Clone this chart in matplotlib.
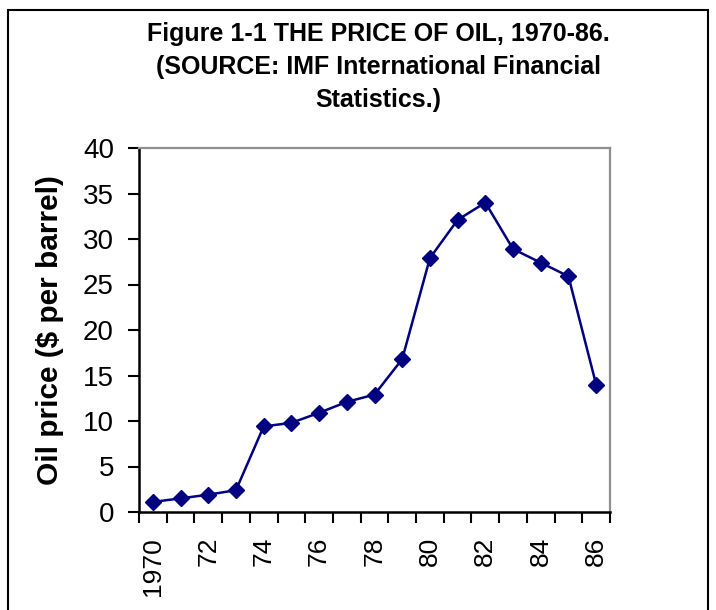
import numpy as np
import matplotlib.pyplot as plt
from matplotlib.patches import Rectangle
from matplotlib.ticker import FixedLocator, NullFormatter

# Oil price data
years = list(range(1970, 1987))
year_labels = ['1970', '72', '74', '76', '78', '80', '82', '84', '86']
prices = [1.1, 1.5, 1.9, 2.4, 9.4, 9.8, 10.9, 12.1, 12.9, 16.8,
          27.9, 32.1, 34.0, 28.9, 27.4, 25.9, 14.0]
y_ticks = [0, 5, 10, 15, 20, 25, 30, 35, 40]

plt.rcParams['font.family'] = ['Liberation Sans', 'DejaVu Sans']

fig = plt.figure(figsize=(7.16, 6.10), dpi=100)
ax = fig.add_axes([139 / 716, 98 / 610, 471 / 716, 364 / 610])

x = np.arange(len(years))
ax.plot(x, prices, color='#000080', lw=1.8, marker='D', markersize=8,
        markerfacecolor='#000080', markeredgecolor='#000080')

ax.set_xlim(-0.5, len(years) - 0.5)
ax.set_ylim(0, 40)
ax.set_yticks(y_ticks)
ax.set_yticklabels([str(v) for v in y_ticks], fontsize=20)

# category axis: tick marks between categories, labels every other year
ax.set_xticks(x[::2])
ax.set_xticklabels(year_labels, rotation=90, fontsize=19)
ax.xaxis.set_minor_locator(FixedLocator(np.arange(-0.5, len(years), 1.0)))
ax.xaxis.set_minor_formatter(NullFormatter())
ax.tick_params(axis='x', which='major', length=0, pad=18)
ax.tick_params(axis='x', which='minor', length=8, width=1.5, direction='out')
ax.tick_params(axis='y', length=8, width=1.5, direction='out', pad=10)

for side in ['left', 'bottom']:
    ax.spines[side].set_color('black')
    ax.spines[side].set_linewidth(1.8)
for side in ['right', 'top']:
    ax.spines[side].set_color('#909090')
    ax.spines[side].set_linewidth(1.6)

ax.set_ylabel('Oil price ($ per barrel)', fontsize=21.5, fontweight='bold')
ax.yaxis.set_label_coords((64 - 139) / 471, 0.5)

fig.text(0.529, 1 - 22 / 610, 'Figure 1-1 THE PRICE OF OIL, 1970-86.\n'
         '(SOURCE: IMF International Financial\nStatistics.)',
         ha='center', va='top', fontsize=18, fontweight='bold',
         linespacing=1.47)

# outer chart border
fig.patches.append(Rectangle((8 / 716, -0.05), 700 / 716, (600 / 610) + 0.05,
                             transform=fig.transFigure, fill=False,
                             edgecolor='black', linewidth=1.5))

fig.savefig('out.png', dpi=100)
